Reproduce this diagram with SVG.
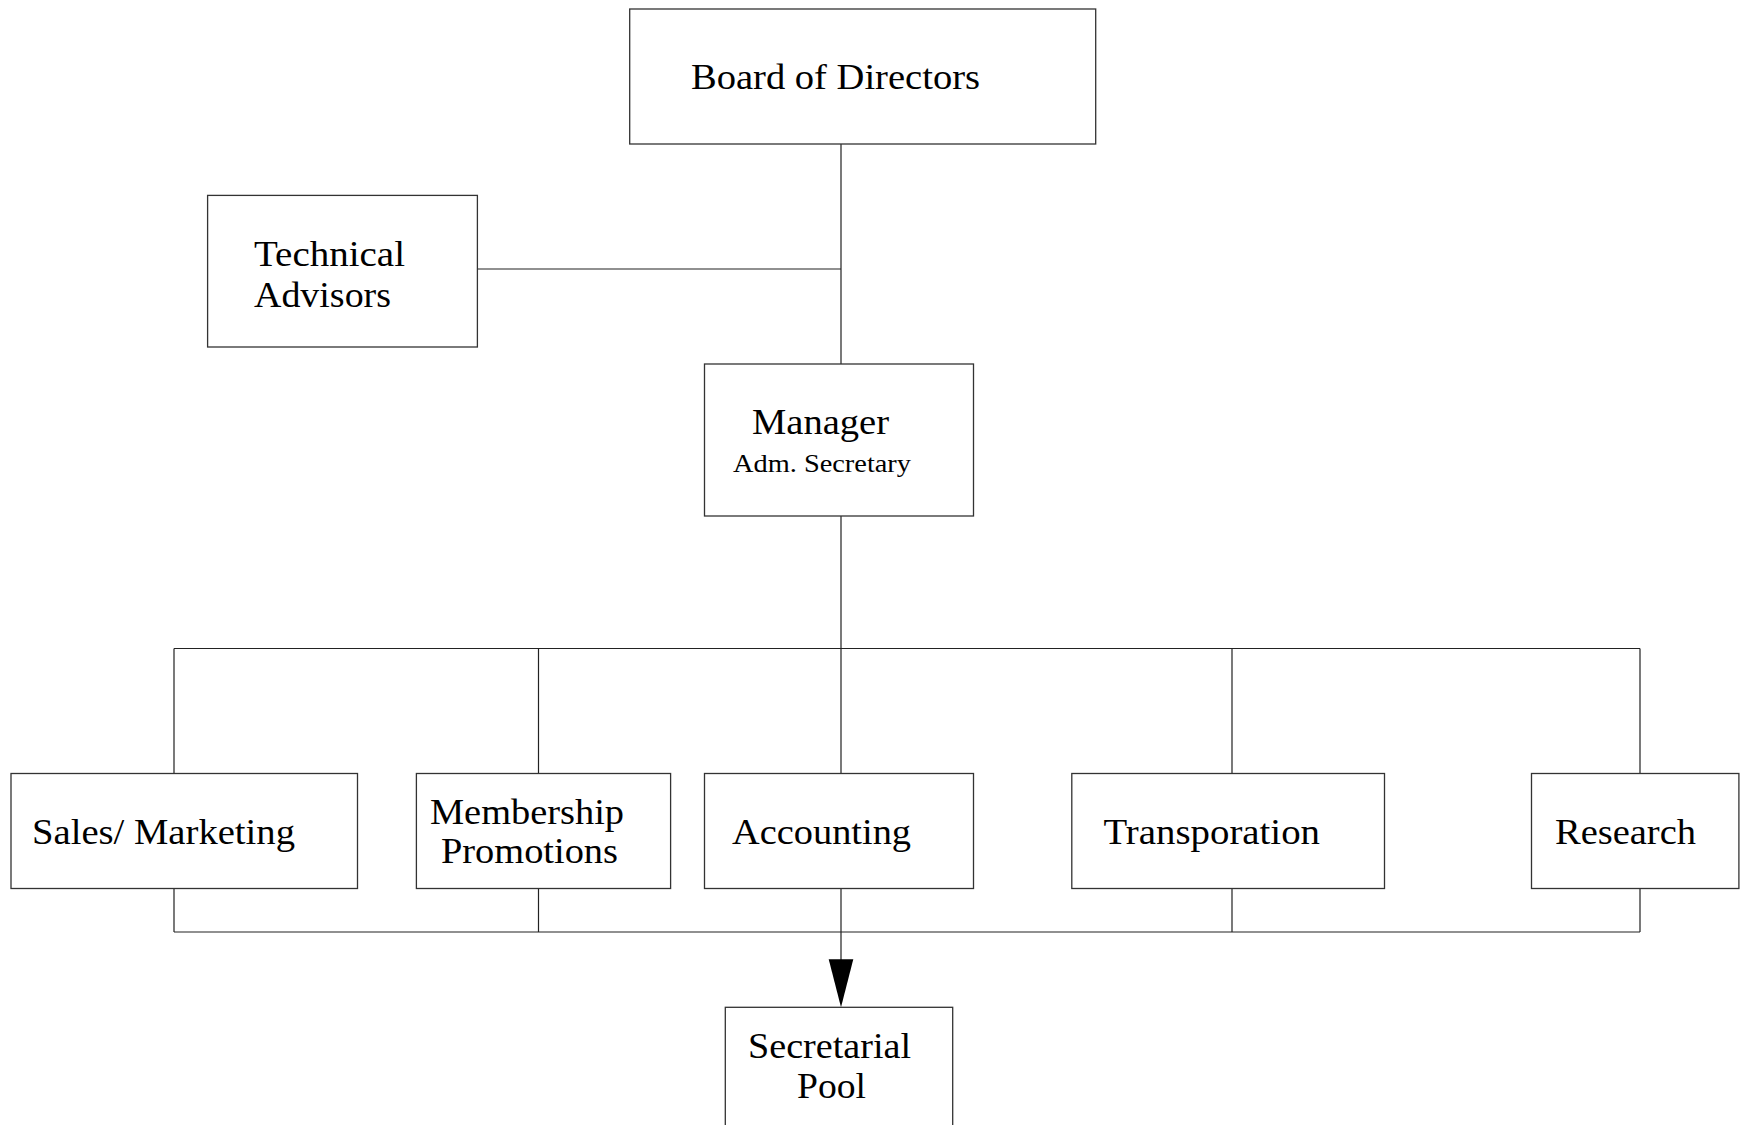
<svg xmlns="http://www.w3.org/2000/svg" width="1741" height="1125" viewBox="0 0 1741 1125">
<style>
.box{fill:#fff;stroke:#333;stroke-width:1.3}
.ln{fill:none;stroke:#222;stroke-width:1.2}
.t{font-family:"Liberation Serif","Times New Roman",serif;font-size:35px;fill:#000}
.s{font-family:"Liberation Serif","Times New Roman",serif;font-size:25px;fill:#000}
</style>
<rect width="1741" height="1125" fill="#fff"/>
<g id="connectors">
<path class="ln" d="M841,144 V364 M477,269 H841 M841,516 V648.5 M174,648.5 H1640 M174,648.5 V773 M538.5,648.5 V773 M841,648.5 V773 M1232,648.5 V773 M1640,648.5 V773 M174,889 V932 M538.5,889 V932 M1232,889 V932 M1640,889 V932 M174,932 H1640 M841,889 V962"/>
<polygon points="828.7,959.3 853.3,959.3 841,1007.3" fill="#000"/>
</g>
<g id="board"><rect class="box" x="629.7" y="9" width="466" height="135"/><text class="t" x="691" y="89" textLength="289" lengthAdjust="spacingAndGlyphs">Board of Directors</text></g>
<g id="technical"><rect class="box" x="207.6" y="195.4" width="269.8" height="151.6"/><text class="t" x="254" y="266" textLength="151" lengthAdjust="spacingAndGlyphs">Technical</text><text class="t" x="254" y="306.7" textLength="137" lengthAdjust="spacingAndGlyphs">Advisors</text></g>
<g id="manager"><rect class="box" x="704.5" y="364" width="269" height="152"/><text class="t" x="752" y="434" textLength="137" lengthAdjust="spacingAndGlyphs">Manager</text><text class="s" x="733" y="472" textLength="178" lengthAdjust="spacingAndGlyphs">Adm. Secretary</text></g>
<g id="sales"><rect class="box" x="11" y="773.5" width="346.5" height="115"/><text class="t" x="32" y="844" textLength="263" lengthAdjust="spacingAndGlyphs">Sales/ Marketing</text></g>
<g id="membership"><rect class="box" x="416.4" y="773.5" width="254.2" height="115"/><text class="t" x="430" y="824" textLength="194" lengthAdjust="spacingAndGlyphs">Membership</text><text class="t" x="441" y="863" textLength="177" lengthAdjust="spacingAndGlyphs">Promotions</text></g>
<g id="accounting"><rect class="box" x="704.5" y="773.5" width="269" height="115"/><text class="t" x="732" y="844" textLength="179" lengthAdjust="spacingAndGlyphs">Accounting</text></g>
<g id="transporation"><rect class="box" x="1071.8" y="773.5" width="312.7" height="115"/><text class="t" x="1103.5" y="844" textLength="216.5" lengthAdjust="spacingAndGlyphs">Transporation</text></g>
<g id="research"><rect class="box" x="1531.5" y="773.5" width="207.4" height="115"/><text class="t" x="1555" y="844" textLength="141" lengthAdjust="spacingAndGlyphs">Research</text></g>
<g id="secretarial"><rect class="box" x="725.3" y="1007.3" width="227.4" height="130"/><text class="t" x="748" y="1058" textLength="163" lengthAdjust="spacingAndGlyphs">Secretarial</text><text class="t" x="797" y="1098" textLength="69" lengthAdjust="spacingAndGlyphs">Pool</text></g>
</svg>
